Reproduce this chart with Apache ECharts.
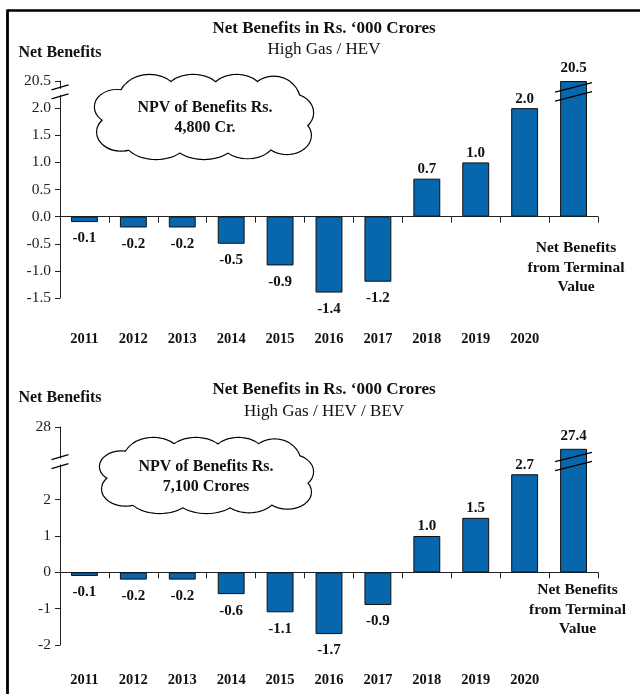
<!DOCTYPE html>
<html><head><meta charset="utf-8">
<script src="https://cdn.jsdelivr.net/npm/echarts@6/dist/echarts.min.js"></script>
<style>html,body{margin:0;padding:0;background:#fff}#c{width:640px;height:694px}</style>
</head><body><div id="c"></div>
<script>
// ---- data ----
const years = ['2011','2012','2013','2014','2015','2016','2017','2018','2019','2020'];
const terminalLabel = 'Net Benefits\nfrom Terminal\nValue';
const categories = years.concat([terminalLabel]);
const hevValues = [-0.1,-0.2,-0.2,-0.5,-0.9,-1.4,-1.2,0.7,1.0,2.0,20.5];
const bevValues = [-0.1,-0.2,-0.2,-0.6,-1.1,-1.7,-0.9,1.0,1.5,2.7,27.4];
const hevTicks = [-1.5,-1.0,-0.5,0,0.5,1.0,1.5,2.0,20.5];
const bevTicks = [-2,-1,0,1,2,28];
const hevTitle = 'Net Benefits in Rs. \u2018000 Crores';
const hevSubtitle = 'High Gas / HEV';
const bevTitle = 'Net Benefits in Rs. \u2018000 Crores';
const bevSubtitle = 'High Gas / HEV / BEV';
const hevNote = 'NPV of Benefits Rs.\n4,800 Cr.';
const bevNote = 'NPV of Benefits Rs.\n7,100 Crores';
const yName = 'Net Benefits';
// broken-axis scale definitions (values above "at" are shifted down by "offset")
const hevBreak = {at: 2.3, offset: 18, min: -1.5, max: 2.5, interval: 0.5, digits: 1};
const bevBreak = {at: 3.05, offset: 24, min: -2, max: 4, interval: 1, digits: 0};

// ---- style ----
const FONT = '"Liberation Serif", "Times New Roman", serif';
const BLUE = '#0866AC';
const INK = '#111';
const AXIS = '#222';

const toAxis = (v, b) => v > b.at ? v - b.offset : v;
const fromAxis = (v, b) => v > b.at ? v + b.offset : v;
const last = categories.length - 1;

function grid(top, height) {
  return {left: 60, right: 42, top: top, height: height, outerBoundsMode: 'none', containLabel: false};
}
function yAxis(gi, b, ticks, nameGap) {
  const cv = ticks.map(t => toAxis(t, b));
  return {
    gridIndex: gi, type: 'value', min: b.min, max: b.max, interval: b.interval,
    name: yName, nameLocation: 'end', nameGap: nameGap,
    nameTextStyle: {fontFamily: FONT, fontWeight: 'bold', fontSize: 16, color: INK, align: 'center'},
    axisLine: {show: true, onZero: false, lineStyle: {color: AXIS, width: 1}},
    axisTick: {show: true, length: 5, customValues: cv, lineStyle: {color: AXIS}},
    axisLabel: {show: true, customValues: cv, margin: 9, fontFamily: FONT, fontSize: 15.5, color: AXIS,
      formatter: v => fromAxis(v, b).toFixed(b.digits)},
    splitLine: {show: false}
  };
}
function xAxisZero(gi) {
  return {
    gridIndex: gi, type: 'category', data: categories, position: 'bottom',
    axisLine: {show: true, onZero: true, lineStyle: {color: AXIS, width: 1}},
    axisTick: {show: true, length: 6, interval: 0, lineStyle: {color: AXIS}},
    axisLabel: {show: false},
    splitLine: {show: false}
  };
}
function xAxisLabels(gi, margin) {
  return {
    gridIndex: gi, type: 'category', data: categories, position: 'bottom',
    axisLine: {show: false, onZero: false},
    axisTick: {show: false},
    axisLabel: {show: true, interval: 0, margin: margin, fontFamily: FONT, fontWeight: 'bold',
      fontSize: 14.5, color: INK, formatter: (v, i) => i < last ? v : ''},
    splitLine: {show: false}
  };
}
function barSeries(values, b, xi, yi) {
  return {
    type: 'bar', xAxisIndex: xi, yAxisIndex: yi, barWidth: '55%', animation: false,
    itemStyle: {color: BLUE, borderColor: '#101010', borderWidth: 1},
    label: {show: true, fontFamily: FONT, fontWeight: 'bold', fontSize: 15, color: INK,
      formatter: p => values[p.dataIndex].toFixed(1)},
    data: values.map(v => ({
      value: toAxis(v, b),
      label: {position: v < 0 ? 'bottom' : 'top', distance: v < 0 ? 9 : (v > b.at ? 5 : 2)}
    }))
  };
}

function cloud(x0, y0, w, h) {
  const lobes = [
    [0.25,0.30,0.14,0.30],[0.45,0.27,0.14,0.27],[0.65,0.27,0.13,0.27],[0.82,0.32,0.12,0.30],
    [0.10,0.38,0.10,0.20],[0.12,0.68,0.11,0.22],
    [0.90,0.45,0.10,0.22],[0.88,0.72,0.11,0.22],
    [0.28,0.75,0.15,0.25],[0.50,0.76,0.15,0.24],[0.70,0.74,0.13,0.25]
  ];
  const els = [];
  const mk = (l, stroke) => ({
    type: 'ellipse', silent: true, z: 50,
    shape: {cx: x0 + l[0]*w, cy: y0 + l[1]*h, rx: l[2]*w, ry: l[3]*h},
    style: stroke ? {fill: '#fff', stroke: '#000', lineWidth: 2.4} : {fill: '#fff', stroke: null}
  });
  lobes.forEach(l => els.push(mk(l, true)));
  lobes.forEach(l => els.push(mk(l, false)));
  els.push(mk([0.5,0.52,0.40,0.32], false));
  return els;
}
function textEl(x, y, text, font, lh, va) {
  return {type: 'text', x: x, y: y, z: 60, silent: true,
    style: {text: text, font: font, fill: INK, align: 'center', verticalAlign: va || 'middle', lineHeight: lh || 20}};
}

const chart = echarts.init(document.getElementById('c'), null, {renderer: 'canvas'});
const staticGraphic = [
  {type: 'line', z: 40, shape: {x1: 7.5, y1: 10.5, x2: 640, y2: 10.5}, style: {stroke: '#000', lineWidth: 2.5}},
  {type: 'line', z: 40, shape: {x1: 7.5, y1: 9.5, x2: 7.5, y2: 694}, style: {stroke: '#000', lineWidth: 2.8}},
  textEl(324, 29, hevTitle, 'bold 17px ' + FONT),
  textEl(324, 50, hevSubtitle, '17px ' + FONT),
  textEl(324, 390, bevTitle, 'bold 17px ' + FONT),
  textEl(324, 412, bevSubtitle, '17px ' + FONT)
].concat(cloud(95, 75, 218, 84))
 .concat([textEl(205, 118, hevNote, 'bold 16px ' + FONT, 20)])
 .concat(cloud(100, 438, 213, 75))
 .concat([textEl(206, 477, bevNote, 'bold 16px ' + FONT, 20)]);

chart.setOption({
  animation: false,
  backgroundColor: '#fff',
  grid: [grid(81, 217), grid(427, 218)],
  xAxis: [xAxisZero(0), xAxisLabels(0, 33.5), xAxisZero(1), xAxisLabels(1, 27.5)],
  yAxis: [yAxis(0, hevBreak, hevTicks, 20), yAxis(1, bevBreak, bevTicks, 21)],
  series: [barSeries(hevValues, hevBreak, 0, 0), barSeries(bevValues, bevBreak, 2, 1)],
  graphic: staticGraphic
});

// break marks and terminal-value caption, positioned through the chart's own scales
function overlay(xi, yi, b, capGap, capDx) {
  const c0 = chart.convertToPixel({xAxisIndex: xi}, 0);
  const c1 = chart.convertToPixel({xAxisIndex: xi}, 1);
  const cw = c1 - c0;
  const axisX = c0 - cw / 2;
  const barX = chart.convertToPixel({xAxisIndex: xi}, last);
  const y0 = chart.convertToPixel({yAxisIndex: yi}, b.at);
  const zeroY = chart.convertToPixel({yAxisIndex: yi}, 0);
  const els = [];
  els.push({type: 'rect', z: 45, shape: {x: axisX - 2, y: y0 - 3, width: 4, height: 6}, style: {fill: '#fff'}});
  [-4.5, 4.5].forEach(d => {
    els.push({type: 'line', z: 46, shape: {x1: axisX - 8.5, y1: y0 + d + 2.5, x2: axisX + 8.5, y2: y0 + d - 2.5},
      style: {stroke: '#000', lineWidth: 1.3}});
    els.push({type: 'line', z: 46, shape: {x1: barX - 0.378*cw, y1: y0 + d + 4.7, x2: barX + 0.378*cw, y2: y0 + d - 4.7},
      style: {stroke: '#000', lineWidth: 1.3}});
  });
  els.push(textEl(barX + capDx, zeroY + capGap, categories[last], 'bold 15.5px ' + FONT, 19.5, 'top'));
  return els;
}
chart.setOption({graphic: staticGraphic
  .concat(overlay(0, 0, hevBreak, 22, 2.5))
  .concat(overlay(2, 1, bevBreak, 8, 4))}, {replaceMerge: ['graphic']});
</script></body></html>
